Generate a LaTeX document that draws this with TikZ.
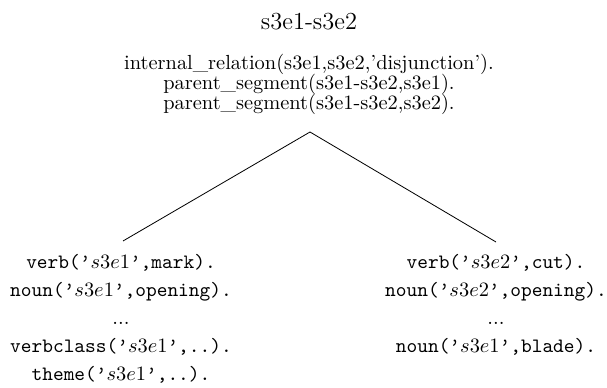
\documentclass[tikz,border=0pt]{standalone}
\begin{document}
\begin{tikzpicture}[x=0.49pt,y=-0.49pt,
  every node/.style={inner sep=0pt,outer sep=0pt,anchor=base},
  title/.style={font=\large},
  fact/.style={font=\normalsize},
  leaf/.style={font=\ttfamily},
  gap/.style={font=\rmfamily},
  branch/.style={draw=black,line width=0.4pt}]
\useasboundingbox (0,0) rectangle (607,388);

% root segment and its facts
\node[title] (root) at (309,30) {s3e1-s3e2};
\node[fact] (f1) at (309,70) {internal\_relation(s3e1,s3e2,'disjunction').};
\node[fact] (f2) at (309,90) {parent\_segment(s3e1-s3e2,s3e1).};
\node[fact] (f3) at (309,110) {parent\_segment(s3e1-s3e2,s3e2).};

% branch points
\coordinate (apex) at (310,132);
\coordinate (lend) at (123,241);
\coordinate (rend) at (496,242);

% left child
\node[leaf] (a1) at (121,268) {verb(’$s3e1$’,mark).};
\node[leaf] (a2) at (121,296) {noun(’$s3e1$’,opening).};
\node[gap]  (a3) at (121,324) {...};
\node[leaf] (a4) at (121,352) {verbclass(’$s3e1$’,..).};
\node[leaf] (a5) at (121,380) {theme(’$s3e1$’,..).};

% right child
\node[leaf] (b1) at (496,268) {verb(’$s3e2$’,cut).};
\node[leaf] (b2) at (496,296) {noun(’$s3e2$’,opening).};
\node[gap]  (b3) at (496,324) {...};
\node[leaf] (b4) at (496,352) {noun(’$s3e1$’,blade).};

\draw[branch] (lend) -- (apex) -- (rend);
\end{tikzpicture}
\end{document}
